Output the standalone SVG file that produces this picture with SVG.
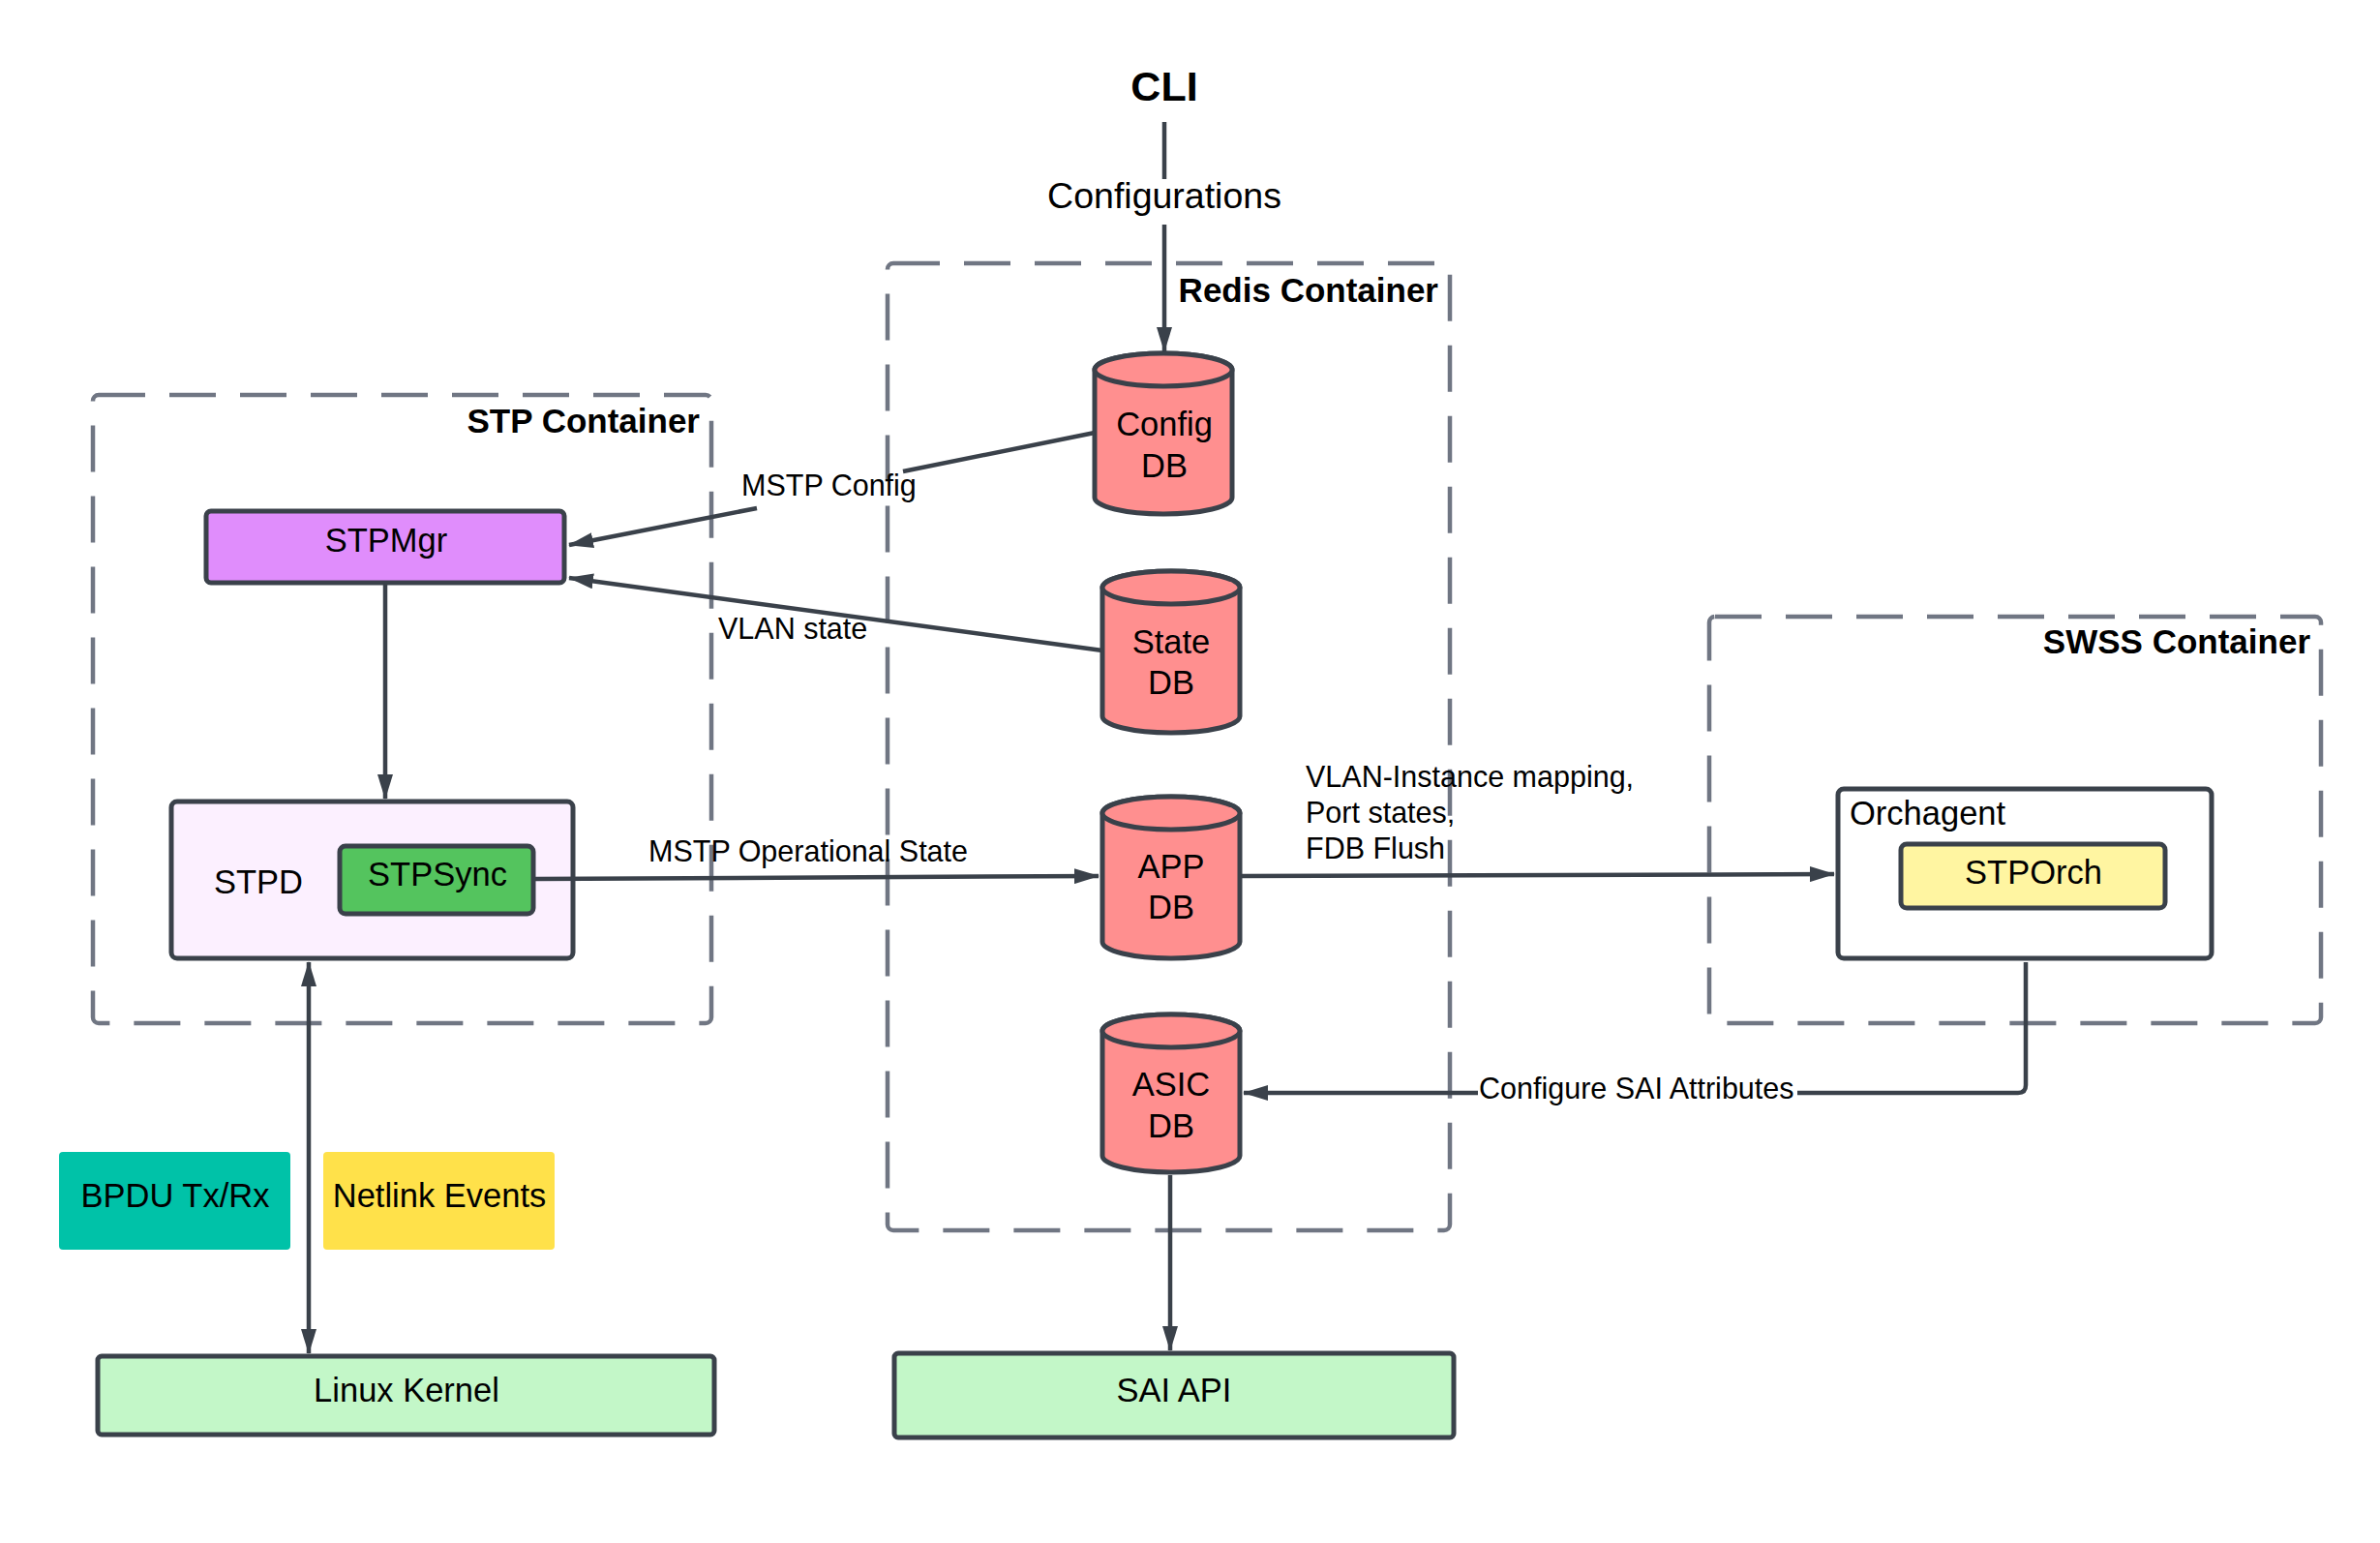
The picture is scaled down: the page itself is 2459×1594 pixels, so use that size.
<svg xmlns="http://www.w3.org/2000/svg" width="2459" height="1594" viewBox="0 0 2459 1594">
<style>
text{font-family:"Liberation Sans",Arial,sans-serif;fill:#000}
.title{font-weight:bold;font-size:35px;text-anchor:end}
.nt{font-size:34.5px;text-anchor:middle}
.lbl{font-size:30.5px}
.container{fill:none;stroke:#707683;stroke-width:4.5;stroke-dasharray:48 25}
.node{stroke:#3a414a;stroke-width:5}
.db{fill:#ff8f8f;stroke:#3a414a;stroke-width:5}
.conn{fill:none;stroke:#3a414a;stroke-width:4.5}
</style>
<defs>
<marker id="arr" viewBox="0 0 26 16" refX="25" refY="8" markerWidth="26" markerHeight="16" markerUnits="userSpaceOnUse" orient="auto-start-reverse">
<path d="M0,0 L26,8 L0,16 z" fill="#3a414a"/>
</marker>
</defs>
<rect width="2459" height="1594" fill="#fff"/>

<g id="stp-container">
<rect class="container" x="96" y="408" width="639" height="649" rx="6"/>
<text class="title" x="723" y="447">STP Container</text>
</g>
<g id="redis-container">
<rect class="container" x="917" y="272" width="581" height="999" rx="6"/>
<text class="title" x="1486" y="312">Redis Container</text>
</g>
<g id="swss-container">
<rect class="container" x="1766" y="637" width="632" height="420" rx="6"/>
<text class="title" x="2387" y="675">SWSS Container</text>
</g>

<g id="cli">
<text x="1203" y="104" style="font-weight:bold;font-size:43px;text-anchor:middle">CLI</text>
</g>

<g id="config-db">
<path class="db" d="M1131,382 A71,17 0 0 1 1273,382 V514 A71,17 0 0 1 1131,514 Z"/>
<ellipse class="db" cx="1202" cy="382" rx="71" ry="17"/>
<text class="nt" x="1203" y="450">Config</text>
<text class="nt" x="1203" y="493">DB</text>
</g>
<g id="state-db">
<path class="db" d="M1139,607 A71,17 0 0 1 1281,607 V740 A71,17 0 0 1 1139,740 Z"/>
<ellipse class="db" cx="1210" cy="607" rx="71" ry="17"/>
<text class="nt" x="1210" y="675">State</text>
<text class="nt" x="1210" y="717">DB</text>
</g>
<g id="app-db">
<path class="db" d="M1139,840 A71,17 0 0 1 1281,840 V973 A71,17 0 0 1 1139,973 Z"/>
<ellipse class="db" cx="1210" cy="840" rx="71" ry="17"/>
<text class="nt" x="1210" y="907">APP</text>
<text class="nt" x="1210" y="949">DB</text>
</g>
<g id="asic-db">
<path class="db" d="M1139,1065 A71,17 0 0 1 1281,1065 V1194 A71,17 0 0 1 1139,1194 Z"/>
<ellipse class="db" cx="1210" cy="1065" rx="71" ry="17"/>
<text class="nt" x="1210" y="1132">ASIC</text>
<text class="nt" x="1210" y="1175">DB</text>
</g>

<g id="stpmgr">
<rect class="node" x="213" y="528" width="370" height="74" rx="5" fill="#e08dfc"/>
<text class="nt" x="399" y="570">STPMgr</text>
</g>
<g id="stpd">
<rect class="node" x="177" y="828" width="415" height="162" rx="6" fill="#fcf0ff"/>
<text class="nt" x="267" y="923">STPD</text>
</g>
<g id="stpsync">
<rect class="node" x="351" y="874" width="200" height="70" rx="6" fill="#54c45e"/>
<text class="nt" x="452" y="915">STPSync</text>
</g>
<g id="orchagent">
<rect class="node" x="1899" y="815" width="386" height="175" rx="6" fill="#ffffff"/>
<text x="1911" y="852" style="font-size:34.5px">Orchagent</text>
</g>
<g id="stporch">
<rect class="node" x="1964" y="872" width="273" height="66" rx="6" fill="#fff5a1"/>
<text class="nt" x="2101" y="913">STPOrch</text>
</g>
<g id="linux-kernel">
<rect class="node" x="101" y="1401" width="637" height="81" rx="4" fill="#c3f7c8"/>
<text class="nt" x="420" y="1448">Linux Kernel</text>
</g>
<g id="sai-api">
<rect class="node" x="924" y="1398" width="578" height="87" rx="4" fill="#c3f7c8"/>
<text class="nt" x="1213" y="1448">SAI API</text>
</g>
<g id="bpdu">
<rect x="61" y="1190" width="239" height="101" rx="4" fill="#00c2a8"/>
<text class="nt" x="181" y="1247">BPDU Tx/Rx</text>
</g>
<g id="netlink">
<rect x="334" y="1190" width="239" height="101" rx="4" fill="#ffe14a"/>
<text class="nt" x="454" y="1247">Netlink Events</text>
</g>

<g id="connectors">
<path class="conn" d="M1203,126 V185 M1203,232 V363" marker-end="url(#arr)"/>
<text x="1203" y="215" style="font-size:37.5px;text-anchor:middle">Configurations</text>

<path class="conn" d="M1131,447 L933,487 M782,525 L588,563" marker-end="url(#arr)"/>
<text class="lbl" x="766" y="512">MSTP Config</text>

<path class="conn" d="M1139,672 L588,597" marker-end="url(#arr)"/>
<text class="lbl" x="742" y="660">VLAN state</text>

<path class="conn" d="M398,604 V825" marker-end="url(#arr)"/>

<path class="conn" d="M553,908 L1135,905" marker-end="url(#arr)"/>
<text class="lbl" x="670" y="890">MSTP Operational State</text>

<path class="conn" d="M1283,905 L1895,903" marker-end="url(#arr)"/>
<text class="lbl" x="1349" y="813">VLAN-Instance mapping,</text>
<text class="lbl" x="1349" y="850">Port states,</text>
<text class="lbl" x="1349" y="887">FDB Flush</text>

<path class="conn" d="M2093,994 V1121 Q2093,1129 2085,1129 H1857 M1527,1129 H1285" marker-end="url(#arr)"/>
<text class="lbl" x="1528" y="1135">Configure SAI Attributes</text>

<path class="conn" d="M1209,1214 V1395" marker-end="url(#arr)"/>

<path class="conn" d="M319,994 V1398" marker-start="url(#arr)" marker-end="url(#arr)"/>
</g>
</svg>
